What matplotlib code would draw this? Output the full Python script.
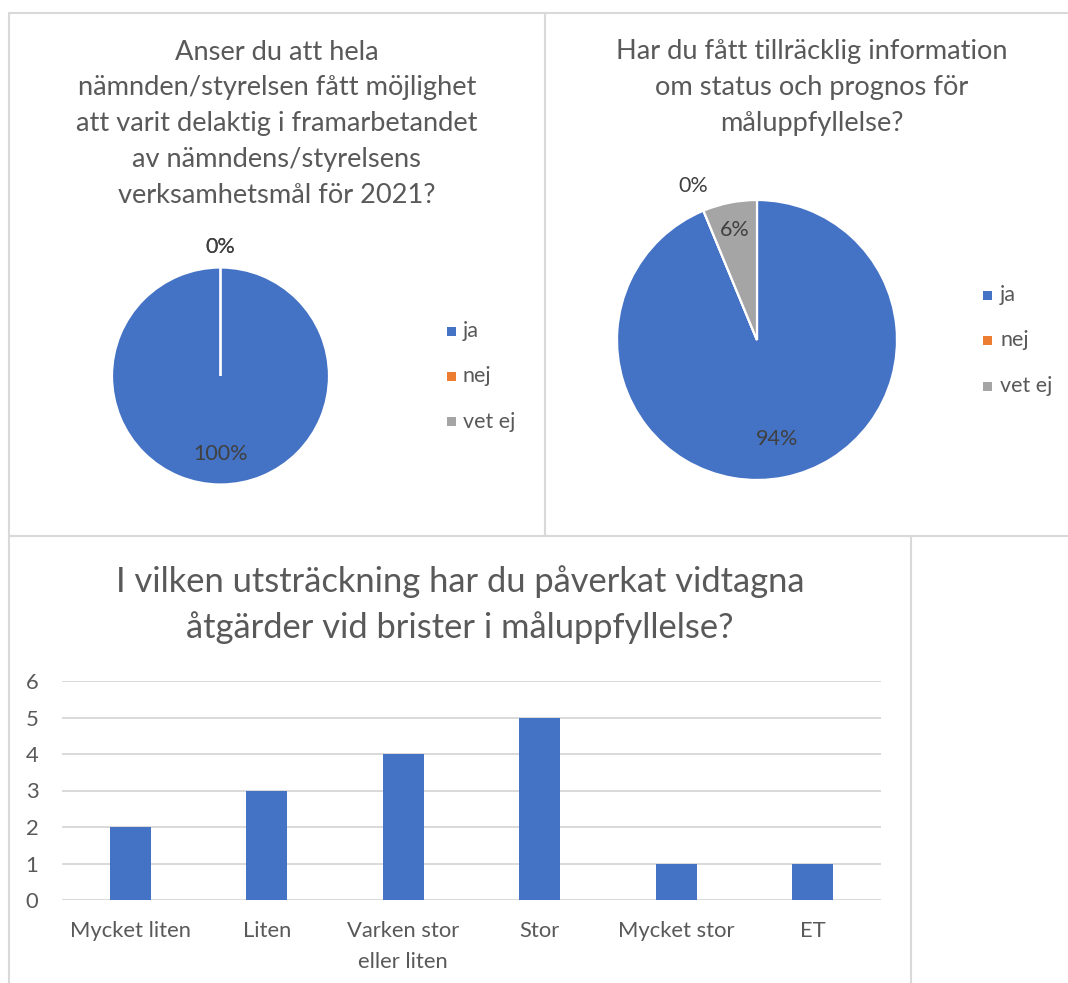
import matplotlib

matplotlib.use("Agg")
import matplotlib.pyplot as plt
import numpy as np
from matplotlib.patches import Rectangle

W, H = 1068, 983

pie_categories = ["ja", "nej", "vet ej"]
pie_colors = ["#4472C4", "#ED7D31", "#A5A5A5"]
pie1_counts = [16, 0, 0]
pie2_counts = [15, 0, 1]
pie1_title = [
    "Anser du att hela",
    "nämnden/styrelsen fått möjlighet",
    "att varit delaktig i framarbetandet",
    "av nämndens/styrelsens",
    "verksamhetsmål för 2021?",
]
pie2_title = [
    "Har du fått tillräcklig information",
    "om status och prognos för",
    "måluppfyllelse?",
]

bar_categories = ["Mycket liten", "Liten", "Varken stor\neller liten", "Stor", "Mycket stor", "ET"]
bar_values = [2, 3, 4, 5, 1, 1]
bar_title = [
    "I vilken utsträckning har du påverkat vidtagna",
    "åtgärder vid brister i måluppfyllelse?",
]
y_ticks = [0, 1, 2, 3, 4, 5, 6]

TEXT = "#595959"
LABEL = "#404040"
BORDER = "#D9D9D9"
FONT = "Lato"

plt.rcParams["font.family"] = [FONT, "DejaVu Sans"]

fig = plt.figure(figsize=(W / 100, H / 100), dpi=100, facecolor="white")


def px_rect(x0, y0, x1, y1):
    return [x0 / W, 1 - y1 / H, (x1 - x0) / W, (y1 - y0) / H]


def fig_text(x, y, s, size, color=TEXT, ha="center"):
    fig.text(x / W, 1 - y / H, s, ha=ha, va="center", fontsize=size, color=color)


def panel(x0, y0, x1, y1):
    fig.add_artist(Rectangle((x0 / W, 1 - y1 / H), (x1 - x0) / W, (y1 - y0) / H,
                             transform=fig.transFigure, fill=False,
                             edgecolor=BORDER, linewidth=1.5))


def draw_pie(cx, cy, r, counts, title_lines, title_x, legend_x, legend_y0):
    for i, line in enumerate(title_lines):
        fig_text(title_x, 52 + i * 35.8, line, 19.6)

    ax = fig.add_axes(px_rect(cx - r, cy - r, cx + r, cy + r))
    wedges, _ = ax.pie(counts, colors=pie_colors, startangle=90, counterclock=False,
                       wedgeprops=dict(edgecolor="white", linewidth=1.6))
    ax.set_xlim(-1, 1)
    ax.set_ylim(-1, 1)
    ax.set_aspect("equal")
    ax.axis("off")

    total = sum(counts)
    for wedge, count in zip(wedges, counts):
        ang = np.deg2rad((wedge.theta1 + wedge.theta2) / 2)
        share = count / total
        dist = 1.19 if count == 0 else (0.8 if share < 0.5 else 0.72)
        ax.text(dist * np.cos(ang), dist * np.sin(ang), f"{share:.0%}",
                ha="center", va="center", fontsize=15.5, color=LABEL, clip_on=False)

    for i, (name, color) in enumerate(zip(pie_categories, pie_colors)):
        y = legend_y0 + i * 45.5
        fig.add_artist(Rectangle(((legend_x - 4.5) / W, 1 - (y + 4.5) / H), 9 / W, 9 / H,
                                 transform=fig.transFigure, facecolor=color, edgecolor="none"))
        fig_text(legend_x + 12, y, name, 15.5, ha="left")


panel(9, 13, 545, 536)
panel(545, 13, 1075, 536)
panel(9, 536, 911, 990)

draw_pie(220.5, 376, 108.5, pie1_counts, pie1_title, 277, 451, 331)
draw_pie(757, 340, 140, pie2_counts, pie2_title, 812, 988, 295)

# bar chart
for i, line in enumerate(bar_title):
    fig_text(460, 582 + i * 46, line, 24.8)

ax = fig.add_axes(px_rect(62, 681, 881, 900))
x = np.arange(len(bar_categories))
ax.bar(x, bar_values, width=0.3, color="#4472C4", zorder=3)
ax.set_xlim(-0.5, len(bar_categories) - 0.5)
ax.set_ylim(0, 6)
ax.set_yticks(y_ticks)
ax.set_xticks(x)
ax.set_xticklabels(bar_categories, linespacing=1.7)
ax.yaxis.grid(True, color=BORDER, linewidth=1.4, zorder=0)
ax.set_axisbelow(True)
for spine in ax.spines.values():
    spine.set_visible(False)
ax.tick_params(axis="both", length=0, labelsize=15.8, colors=TEXT)
ax.tick_params(axis="y", pad=17)
ax.tick_params(axis="x", pad=15)
ax.set_facecolor("none")

fig.savefig("out.png", dpi=100, facecolor="white")
